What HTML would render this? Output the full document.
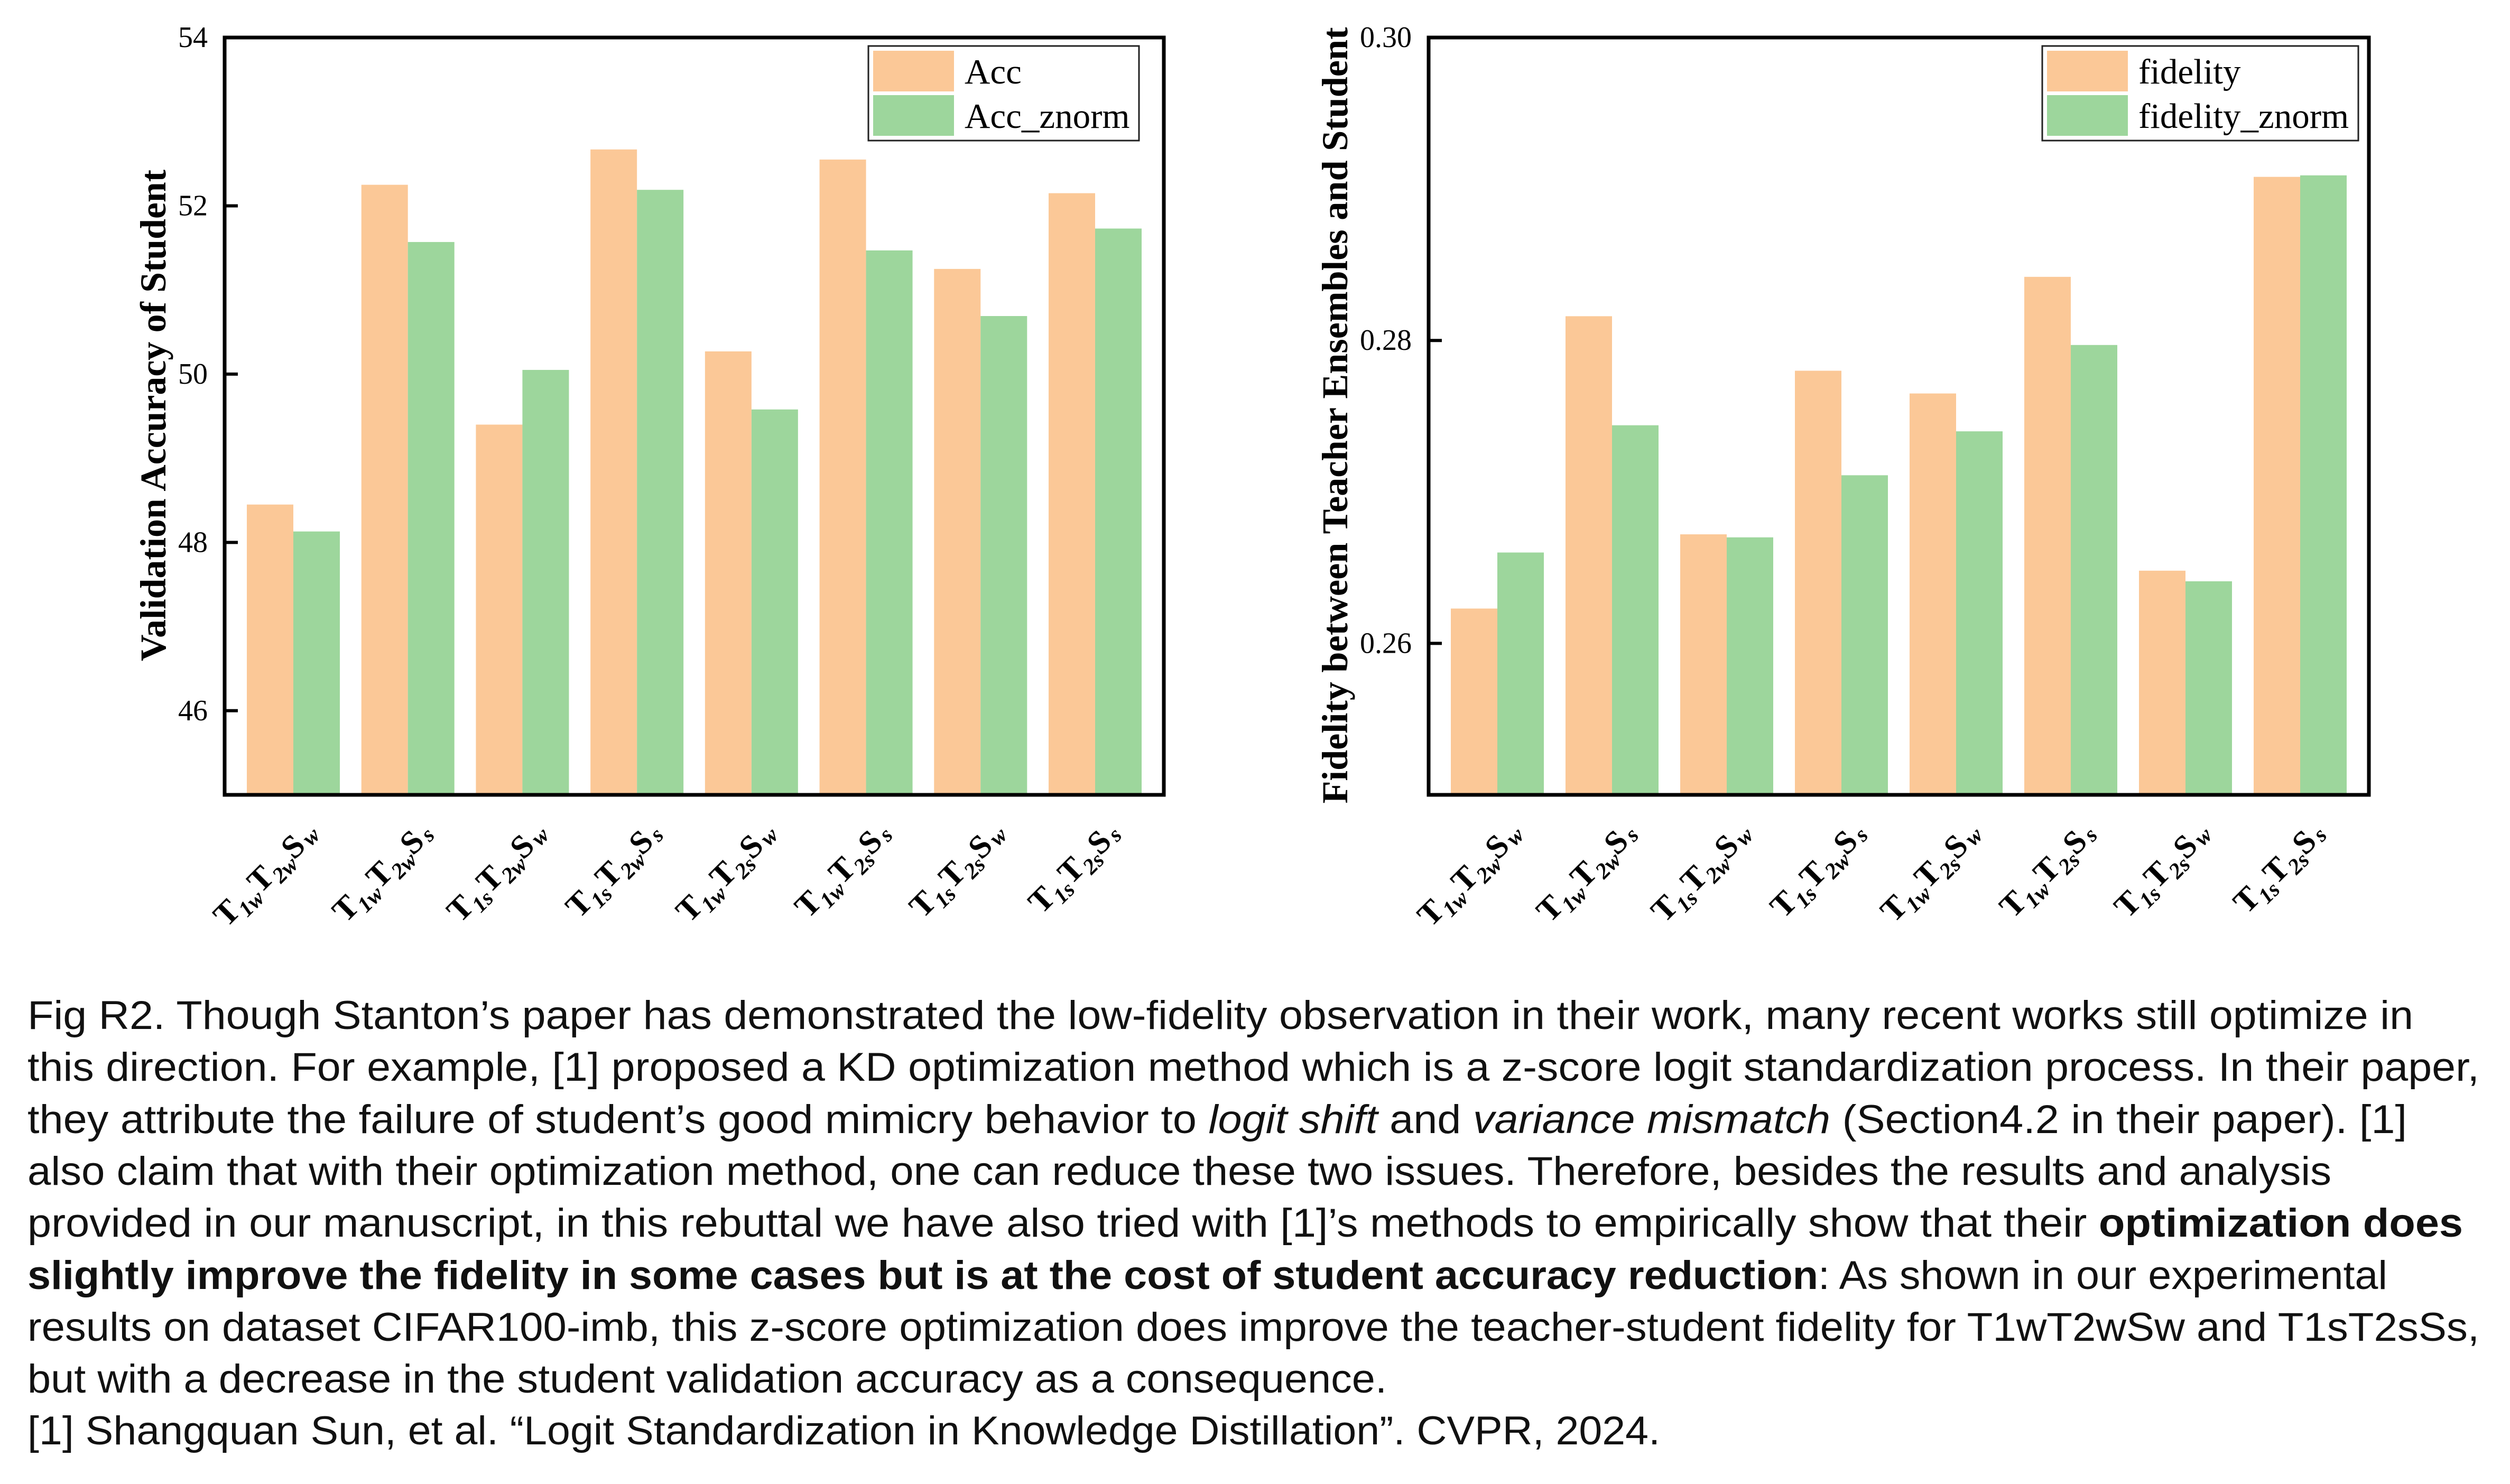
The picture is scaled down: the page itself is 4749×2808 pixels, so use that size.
<!DOCTYPE html>
<html><head><meta charset="utf-8"><style>
html,body{margin:0;padding:0;background:#fff;}
svg{display:block;}
.tick{font-family:"Liberation Serif",serif;font-size:56px;fill:#000;}
.leg{font-family:"Liberation Serif",serif;font-size:67px;fill:#000;}
.ytitle{font-family:"Liberation Serif",serif;font-size:69px;font-weight:bold;fill:#000;}
.xl{font-family:"Liberation Serif",serif;font-weight:bold;fill:#000;}
.cap{font-family:"Liberation Sans","Noto Sans CJK SC",sans-serif;font-size:76px;fill:#111;}
</style></head><body>
<svg id="fig" width="4749" height="2808" viewBox="0 0 4749 2808" xmlns="http://www.w3.org/2000/svg">
<g id="chartL"></g>
<g id="chartR"></g>
<g>
<text class="cap" x="52" y="1947" textLength="4514" lengthAdjust="spacingAndGlyphs">Fig R2. Though Stanton’s paper has demonstrated the low-fidelity observation in their work, many recent works still optimize in</text>
<text class="cap" x="52" y="2045" textLength="4639" lengthAdjust="spacingAndGlyphs">this direction. For example, [1] proposed a KD optimization method which is a z-score logit standardization process. In their paper,</text>
<text class="cap" x="52" y="2144" textLength="4502" lengthAdjust="spacingAndGlyphs">they attribute the failure of student’s good mimicry behavior to <tspan font-style="italic">logit shift</tspan> and <tspan font-style="italic">variance mismatch</tspan> (Section4.2 in their paper). [1]</text>
<text class="cap" x="52" y="2242" textLength="4359" lengthAdjust="spacingAndGlyphs">also claim that with their optimization method, one can reduce these two issues. Therefore, besides the results and analysis</text>
<text class="cap" x="52" y="2340" textLength="4608" lengthAdjust="spacingAndGlyphs">provided in our manuscript, in this rebuttal we have also tried with [1]’s methods to empirically show that their <tspan font-weight="bold">optimization does</tspan></text>
<text class="cap" x="52" y="2439" textLength="4465" lengthAdjust="spacingAndGlyphs"><tspan font-weight="bold">slightly improve the fidelity in some cases but is at the cost of student accuracy reduction</tspan>: As shown in our experimental</text>
<text class="cap" x="52" y="2537" textLength="4639" lengthAdjust="spacingAndGlyphs">results on dataset CIFAR100-imb, this z-score optimization does improve the teacher-student fidelity for T1wT2wSw and T1sT2sSs,</text>
<text class="cap" x="52" y="2635" textLength="2572" lengthAdjust="spacingAndGlyphs">but with a decrease in the student validation accuracy as a consequence.</text>
<text class="cap" x="52" y="2733" textLength="3089" lengthAdjust="spacingAndGlyphs">[1] Shangquan Sun, et al. “Logit Standardization in Knowledge Distillation”. CVPR, 2024.</text>
</g>
</svg>
<script>
const categories = [["1w","2w","w"],["1w","2w","s"],["1s","2w","w"],["1s","2w","s"],["1w","2s","w"],["1w","2s","s"],["1s","2s","w"],["1s","2s","s"]];
const accValues = [48.45, 52.25, 49.4, 52.67, 50.27, 52.55, 51.25, 52.15];
const accZnormValues = [48.13, 51.57, 50.05, 52.19, 49.58, 51.47, 50.69, 51.73];
const accTicks = [46, 48, 50, 52, 54];
const fidValues = [0.2623, 0.2816, 0.2672, 0.2780, 0.2765, 0.2842, 0.2648, 0.2908];
const fidZnormValues = [0.2660, 0.2744, 0.2670, 0.2711, 0.2740, 0.2797, 0.2641, 0.2909];
const fidTicks = [0.26, 0.28, 0.30];
const accLegend = ["Acc", "Acc_znorm"];
const fidLegend = ["fidelity", "fidelity_znorm"];

const NS = "http://www.w3.org/2000/svg";
const ORANGE = "#fbc897", GREEN = "#9dd69c";
function mk(parent, tag, attrs) {
  const e = document.createElementNS(NS, tag);
  for (const k in attrs) e.setAttribute(k, attrs[k]);
  parent.appendChild(e);
  return e;
}
function drawChart(g, cfg) {
  const {x0, x1, y0, y1, dmin, dmax, s1, s2, ticks, fmt, legend, lx, lw, title, titleX, titleLen} = cfg;
  const yS = v => y1 - (v - dmin) / (dmax - dmin) * (y1 - y0);
  const n = categories.length, bw = 88, margin = 42;
  const pitch = ((x1 - x0) - 2 * margin - 2 * bw) / (n - 1);
  const xC = i => x0 + margin + bw + i * pitch;
  for (let i = 0; i < n; i++) {
    const r1 = mk(g, "rect", {x: xC(i) - bw, y: yS(s1[i]), width: bw, height: y1 - yS(s1[i]), fill: ORANGE});
    
    
    const r2 = mk(g, "rect", {x: xC(i), y: yS(s2[i]), width: bw, height: y1 - yS(s2[i]), fill: GREEN});
    
    
    const c = categories[i];
    const t = mk(g, "text", {class: "xl", "text-anchor": "end", transform: "translate(" + (xC(i) + 50) + ",1580) rotate(-45)"});
    
    
    t.innerHTML = '<tspan font-size="62">T</tspan><tspan font-size="42" font-style="italic" dy="14">' + c[0] + '</tspan><tspan font-size="62" dy="-14">T</tspan><tspan font-size="42" font-style="italic" dy="14">' + c[1] + '</tspan><tspan font-size="62" dy="-14">S</tspan><tspan font-size="42" font-style="italic" dy="4" dx="6">' + c[2] + '</tspan>';
  }
  ticks.forEach(v => {
    const tk = mk(g, "line", {x1: x0, x2: x0 + 25, y1: yS(v), y2: yS(v), stroke: "#000", "stroke-width": 6});
    
    
    const tl = mk(g, "text", {class: "tick", x: x0 - 32, y: yS(v) + 18, "text-anchor": "end"});
    
    
    tl.textContent = fmt(v);
  });
  const frame = mk(g, "rect", {x: x0, y: y0, width: x1 - x0, height: y1 - y0, fill: "none", stroke: "#000", "stroke-width": 7});
  
  
  const lg = mk(g, "g", {});
  
  
  mk(lg, "rect", {x: lx, y: 87, width: lw, height: 179, fill: "#fff", stroke: "#222", "stroke-width": 3});
  [ORANGE, GREEN].forEach((col, k) => {
    const sw = mk(lg, "rect", {x: lx + 9, y: 96 + k * 84, width: 153, height: 77, fill: col});
    
    
    const lt = mk(lg, "text", {class: "leg", x: lx + 182, y: 158 + k * 84});
    
    
    lt.textContent = legend[k];
  });
  const yt = mk(g, "text", {class: "ytitle", "text-anchor": "middle", textLength: titleLen, lengthAdjust: "spacingAndGlyphs", transform: "translate(" + titleX + ",786) rotate(-90)"});
  
  
  yt.setAttribute('xml:space', 'preserve');
  yt.textContent = title;
}
drawChart(document.getElementById("chartL"), {x0: 425, x1: 2202, y0: 71, y1: 1504, dmin: 45, dmax: 54,
  s1: accValues, s2: accZnormValues, ticks: accTicks, fmt: v => String(v), legend: accLegend,
  lx: 1643, lw: 512, title: "Validation Accuracy of Student", titleX: 313, titleLen: 930});
drawChart(document.getElementById("chartR"), {x0: 2703, x1: 4482, y0: 71, y1: 1504, dmin: 0.25, dmax: 0.30,
  s1: fidValues, s2: fidZnormValues, ticks: fidTicks, fmt: v => v.toFixed(2), legend: fidLegend,
  lx: 3864, lw: 598, title: "Fidelity between Teacher Ensembles  and Student", titleX: 2549, titleLen: 1469});
</script>
</body></html>
